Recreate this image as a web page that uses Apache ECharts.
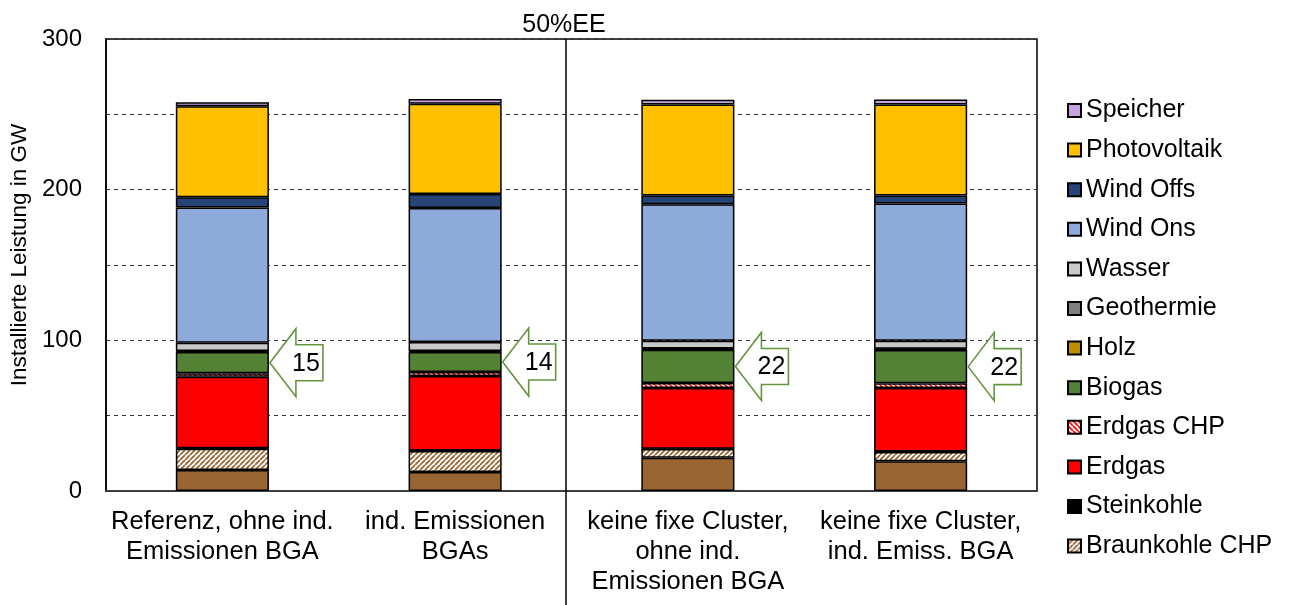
<!DOCTYPE html>
<html>
<head>
<meta charset="utf-8">
<script src="https://cdn.jsdelivr.net/npm/echarts@6/dist/echarts.min.js"></script>
<style>
html,body{margin:0;padding:0;background:#fff;}
#main{width:1292px;height:605px;}
</style>
</head>
<body>
<div id="main"></div>
<script>
// ---- data ----
const categories = [
  "Referenz, ohne ind.\nEmissionen BGA",
  "ind. Emissionen\nBGAs",
  "keine fixe Cluster,\nohne ind.\nEmissionen BGA",
  "keine fixe Cluster,\nind. Emiss. BGA"
];
const braunkohle    = [14.0, 12.6, 22.0, 19.7];
const braunkohleCHP = [14.0, 14.0, 5.8, 6.2];
const steinkohle    = [0.3, 0.3, 0.3, 0.3];
const erdgas        = [47.5, 49.4, 40.3, 42.1];
const erdgasCHP     = [2.3, 2.7, 3.2, 3.2];
const biogas        = [14.1, 13.2, 22.1, 22.1];
const holz          = [0.5, 0.5, 0.5, 0.5];
const geothermie    = [0.3, 0.3, 0.3, 0.3];
const wasser        = [5.4, 5.9, 5.3, 5.3];
const windOns       = [89.8, 88.9, 90.6, 91.2];
const windOffs      = [6.7, 9.3, 5.8, 5.3];
const photovoltaik  = [60.4, 60.0, 60.4, 60.4];
const speicher      = [2.8, 3.0, 3.0, 3.3];
const arrowLabels   = [15, 14, 22, 22];
const yTicks = [0, 100, 200, 300];
const sceneTitle = "50%EE";
const yAxisName = "Installierte Leistung in GW";

// ---- patterns ----
function stripePattern(bg, fg, dir) {
  const c = document.createElement('canvas');
  const s = 5;
  c.width = s; c.height = s;
  const g = c.getContext('2d');
  g.fillStyle = bg; g.fillRect(0, 0, s, s);
  g.strokeStyle = fg; g.lineWidth = 1.8;
  g.beginPath();
  if (dir === '/') {
    for (let k = -1; k <= 1; k++) { g.moveTo(k * s, s); g.lineTo(k * s + s, 0); }
  } else {
    for (let k = -1; k <= 1; k++) { g.moveTo(k * s, 0); g.lineTo(k * s + s, s); }
  }
  g.stroke();
  return { image: c, repeat: 'repeat' };
}
const brownHatch = stripePattern('#ffffff', '#996633', '/');
const redHatch = stripePattern('#ffffff', '#ff0000', '\\');

const FONT = "'Liberation Sans', Arial, sans-serif";

const stackDefs = [
  { name: 'Braunkohle', data: braunkohle, color: '#996633' },
  { name: 'Braunkohle CHP', data: braunkohleCHP, color: brownHatch },
  { name: 'Steinkohle', data: steinkohle, color: '#000000' },
  { name: 'Erdgas', data: erdgas, color: '#ff0000' },
  { name: 'Erdgas CHP', data: erdgasCHP, color: redHatch },
  { name: 'Biogas', data: biogas, color: '#548235' },
  { name: 'Holz', data: holz, color: '#bf8f00' },
  { name: 'Geothermie', data: geothermie, color: '#808080' },
  { name: 'Wasser', data: wasser, color: '#c9c9c9' },
  { name: 'Wind Ons', data: windOns, color: '#8eaadb' },
  { name: 'Wind Offs', data: windOffs, color: '#264478' },
  { name: 'Photovoltaik', data: photovoltaik, color: '#ffc000' },
  { name: 'Speicher', data: speicher, color: '#c9a3e0' }
];

const series = stackDefs.map(d => ({
  name: d.name,
  type: 'bar',
  stack: 'total',
  barWidth: '40%',
  data: d.data,
  itemStyle: { color: d.color, borderColor: '#000', borderWidth: 1.5 },
  emphasis: { disabled: true }
}));

// arrow positions: middle of the Biogas segment
const arrowData = categories.map((c, i) => {
  const below = braunkohle[i] + braunkohleCHP[i] + steinkohle[i] + erdgas[i] + erdgasCHP[i];
  return [i, below + biogas[i] / 2, arrowLabels[i]];
});

series.push({
  name: 'arrows',
  type: 'custom',
  data: arrowData,
  z: 10,
  silent: true,
  renderItem: function (params, api) {
    const p = api.coord([api.value(0), api.value(1)]);
    const bw = api.size([1, 0])[0] * 0.4;
    const tx = p[0] + bw / 2 + 1, ty = p[1];
    const hl = 26, L = 53, hh = 34, sh = 18;
    return {
      type: 'group',
      children: [
        {
          type: 'polygon',
          shape: { points: [[tx, ty], [tx + hl, ty - hh], [tx + hl, ty - sh], [tx + L, ty - sh], [tx + L, ty + sh], [tx + hl, ty + sh], [tx + hl, ty + hh]] },
          style: { fill: '#fff', stroke: '#62973f', lineWidth: 1.6 }
        },
        {
          type: 'text',
          style: { text: String(api.value(2)), x: tx + 36, y: ty + 1, align: 'center', verticalAlign: 'middle', font: "25px " + FONT, fill: '#000' }
        }
      ]
    };
  }
});

const chart = echarts.init(document.getElementById('main'), null, { renderer: 'canvas' });
chart.setOption({
  animation: false,
  backgroundColor: '#fff',
  grid: { left: 106, right: 255, top: 39, bottom: 114, show: true, borderColor: '#000', borderWidth: 1.5, backgroundColor: 'transparent' },
  legend: {
    orient: 'vertical',
    left: 1062,
    top: 93,
    itemWidth: 13,
    itemHeight: 13,
    itemGap: 14.6,
    icon: 'rect',
    selectedMode: false,
    data: ['Speicher', 'Photovoltaik', 'Wind Offs', 'Wind Ons', 'Wasser', 'Geothermie', 'Holz', 'Biogas', 'Erdgas CHP', 'Erdgas', 'Steinkohle', 'Braunkohle CHP'],
    textStyle: { fontFamily: FONT, fontSize: 25, color: '#000', lineHeight: 24 }
  },
  xAxis: {
    type: 'category',
    data: categories,
    axisLine: { lineStyle: { color: '#404040', width: 1.5 } },
    axisTick: { show: false },
    axisLabel: { fontFamily: FONT, fontSize: 25.5, color: '#000', lineHeight: 30, margin: 16, interval: 0 }
  },
  yAxis: {
    type: 'value',
    min: 0, max: 300, interval: 50,
    name: yAxisName,
    nameLocation: 'middle',
    nameRotate: 90,
    nameGap: 66,
    nameTextStyle: { fontFamily: FONT, fontSize: 22.5, color: '#000', padding: [0, 0, 0, 20] },
    axisLine: { show: true, lineStyle: { color: '#000', width: 1.5 } },
    axisTick: { show: false },
    axisLabel: {
      fontFamily: FONT, fontSize: 24, color: '#000', margin: 24,
      formatter: v => (yTicks.indexOf(v) >= 0 ? String(v) : '')
    },
    splitLine: { show: true, lineStyle: { color: '#333', type: [4, 4], width: 1 } }
  },
  graphic: [
    { type: 'line', shape: { x1: 566, y1: 39, x2: 566, y2: 605 }, style: { stroke: '#000', lineWidth: 1.5 }, z: 20 },
    { type: 'text', x: 564, y: 25, style: { text: sceneTitle, align: 'center', verticalAlign: 'middle', font: "25px " + FONT, fill: '#000' } }
  ],
  series: series
});
</script>
</body>
</html>
